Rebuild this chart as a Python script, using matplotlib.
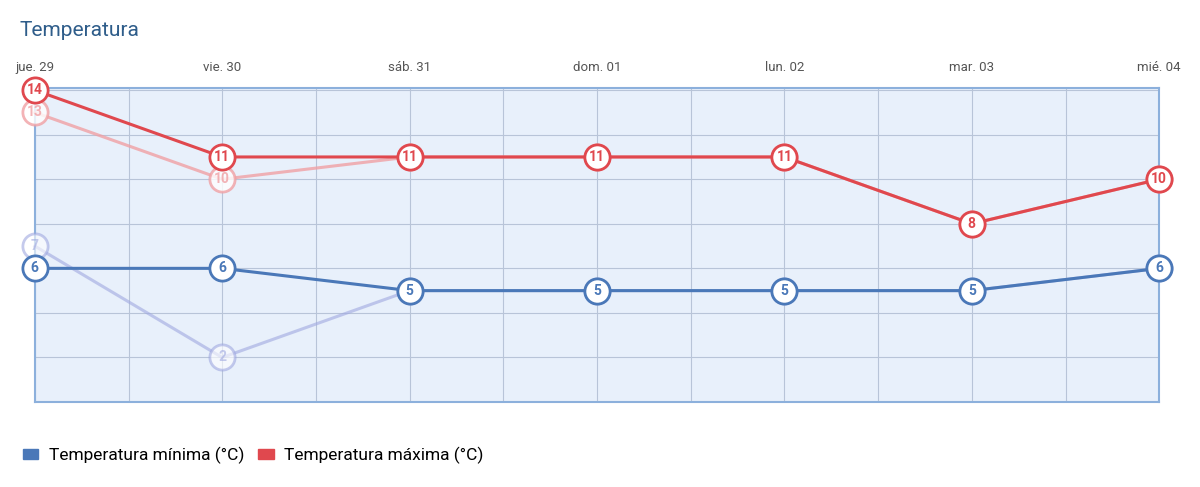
import matplotlib
matplotlib.use("Agg")
import matplotlib.pyplot as plt
from matplotlib.patches import Patch

days = ["jue. 29", "vie. 30", "sáb. 31", "dom. 01", "lun. 02", "mar. 03", "mié. 04"]
tmin = [6, 6, 5, 5, 5, 5, 6]
tmax = [14, 11, 11, 11, 11, 8, 10]
tmin_prev = [7, 2, 5, 5, 5, 5, 6]
tmax_prev = [13, 10, 11, 11, 11, 8, 10]

plt.rcParams['font.family'] = ['Roboto', 'DejaVu Sans']
fig = plt.figure(figsize=(12, 4.87), dpi=100)
ax = fig.add_axes([0.029, 0.1745, 0.937, 0.645])
ax.set_facecolor("#e8f0fb")
x = list(range(len(days)))

def series(vals, color, alpha, z):
    ax.plot(x, vals, color=color, lw=2.2, alpha=alpha, zorder=z, clip_on=False)
    for xi, v in zip(x, vals):
        ax.scatter(xi, v, s=330, facecolor="white", edgecolor=color, linewidth=2, alpha=alpha,
                   zorder=z + 1, clip_on=False)
        ax.text(xi, v, str(v), ha="center", va="center", fontsize=10, fontweight="bold",
                color=color, alpha=alpha, zorder=z + 2, clip_on=False)

series(tmin_prev, "#9fa8e0", 0.6, 3)
series(tmax_prev, "#f0a0a4", 0.8, 3)
series(tmin, "#4a78b8", 1, 6)
series(tmax, "#e0484e", 1, 6)

ax.set_xlim(0, 6)
ax.set_ylim(0, 14.1)
ax.set_yticks(range(0, 15, 2))
ax.set_xticks([i * 0.5 for i in range(13)])
ax.grid(True, color="#b8c4d8", lw=0.8)
ax.tick_params(length=0, labelleft=False, labelbottom=False)
ax.set_xticklabels([])
for s in ax.spines.values():
    s.set_color("#8cb0dc"); s.set_linewidth(1.5)
for i, d in enumerate(days):
    ax.text(i, 1.045, d, transform=ax.get_xaxis_transform(), ha="center", va="bottom",
            fontsize=9.5, color="#555555", clip_on=False)

fig.text(0.016, 0.937, "Temperatura", fontsize=15, color="#2f5d8a", ha="left", va="center")
fig.legend(handles=[Patch(color="#4a78b8", label="Temperatura mínima (°C)"),
                    Patch(color="#e0484e", label="Temperatura máxima (°C)")],
           loc="center left", bbox_to_anchor=(0.006, 0.065), ncol=2, frameon=False,
           fontsize=12.5, handlelength=0.9, handleheight=0.5, columnspacing=0.8, handletextpad=0.6)
fig.savefig("out.png", dpi=100)
